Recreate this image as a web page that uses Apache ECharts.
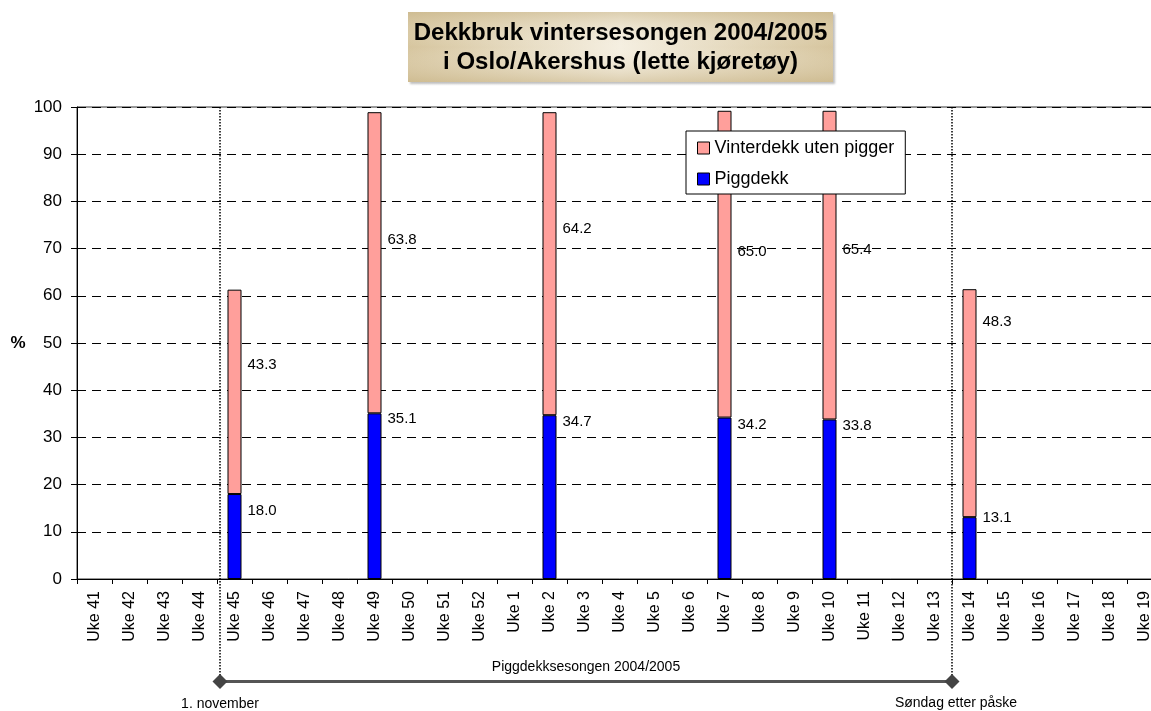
<!DOCTYPE html>
<html>
<head>
<meta charset="utf-8">
<script src="https://cdn.jsdelivr.net/npm/echarts@6.0.0/dist/echarts.min.js"></script>
<style>
  html, body { margin: 0; padding: 0; background: #fff; overflow: hidden; }
  /* the reference plot runs past the right edge of the picture */
  #chart { width: 1180px; height: 711px; }
</style>
</head>
<body>
<div id="chart"></div>
<script>
const weeks = [
  'Uke 41', 'Uke 42', 'Uke 43', 'Uke 44', 'Uke 45', 'Uke 46', 'Uke 47', 'Uke 48',
  'Uke 49', 'Uke 50', 'Uke 51', 'Uke 52', 'Uke 1', 'Uke 2', 'Uke 3', 'Uke 4',
  'Uke 5', 'Uke 6', 'Uke 7', 'Uke 8', 'Uke 9', 'Uke 10', 'Uke 11', 'Uke 12',
  'Uke 13', 'Uke 14', 'Uke 15', 'Uke 16', 'Uke 17', 'Uke 18', 'Uke 19'
]
const measuredWeeks = ['Uke 45', 'Uke 49', 'Uke 2', 'Uke 7', 'Uke 10', 'Uke 14']
const piggdekk = [18.0, 35.1, 34.7, 34.2, 33.8, 13.1]
const vinterdekk = [43.3, 63.8, 64.2, 65.0, 65.4, 48.3]
const yMin = 0
const yMax = 100
const yStep = 10

// where the value labels sit, in axis units (layout only)
const piggLabelAt = [14.4, 33.9, 33.3, 32.6, 32.4, 12.9]
const vinterLabelAt = [45.3, 71.8, 74.2, 69.3, 69.7, 54.4]

const FONT = "'Liberation Sans', Arial, sans-serif"
const gridTop = 107
const gridHeight = 472
const pxPerUnit = gridHeight / (yMax - yMin)

function buildData(values, base, labelAt) {
  return weeks.map(w => {
    const i = measuredWeeks.indexOf(w)
    if (i < 0) return '-'
    const mid = (base ? base[i] : 0) + values[i] / 2
    return {
      value: values[i],
      label: { offset: [0, -(labelAt[i] - mid) * pxPerUnit] }
    }
  })
}

const labelStyle = {
  show: true,
  position: 'right',
  distance: 6,
  fontSize: 15,
  fontFamily: FONT,
  color: '#000',
  formatter: p => Number(p.value).toFixed(1)
}

const chart = echarts.init(document.getElementById('chart'))

chart.setOption({
  backgroundColor: '#fff',
  animation: false,
  textStyle: { fontFamily: FONT },
  grid: {
    left: 77,
    top: gridTop,
    width: 1085,
    height: gridHeight,
    show: true,
    borderColor: '#333',
    borderWidth: 1,
    backgroundColor: 'transparent'
  },
  legend: {
    orient: 'vertical',
    left: 686,
    top: 131,
    padding: [8, 11, 6, 11],
    backgroundColor: '#fff',
    borderColor: '#000',
    borderWidth: 1,
    borderRadius: 0,
    itemWidth: 12,
    itemHeight: 12,
    itemGap: 13,
    icon: 'rect',
    data: ['Vinterdekk uten pigger', 'Piggdekk'],
    itemStyle: { borderColor: '#000', borderWidth: 1 },
    textStyle: { fontSize: 18, lineHeight: 18, color: '#000', fontFamily: FONT }
  },
  xAxis: {
    type: 'category',
    data: weeks,
    axisLine: { lineStyle: { color: '#000', width: 1 } },
    axisTick: { show: true, length: 5, lineStyle: { color: '#000' } },
    axisLabel: {
      rotate: 90,
      interval: 0,
      margin: 12,
      fontSize: 16,
      color: '#000',
      fontFamily: FONT
    },
    splitLine: { show: false }
  },
  yAxis: {
    type: 'value',
    min: yMin,
    max: yMax,
    interval: yStep,
    axisLine: { show: true, lineStyle: { color: '#000', width: 1 } },
    axisTick: { show: true, length: 6, lineStyle: { color: '#000' } },
    axisLabel: { margin: 15, fontSize: 17, color: '#000', fontFamily: FONT },
    splitLine: { lineStyle: { color: '#000', type: [9, 6], width: 1 } }
  },
  series: [
    {
      name: 'Piggdekk',
      type: 'bar',
      stack: 'dekk',
      barWidth: 14,
      itemStyle: { color: '#0000ff', borderColor: '#000', borderWidth: 1 },
      label: labelStyle,
      data: buildData(piggdekk, null, piggLabelAt)
    },
    {
      name: 'Vinterdekk uten pigger',
      type: 'bar',
      stack: 'dekk',
      barWidth: 14,
      itemStyle: { color: '#ff9f9b', borderColor: '#000', borderWidth: 1 },
      label: labelStyle,
      data: buildData(vinterdekk, piggdekk, vinterLabelAt)
    }
  ]
})

// annotations placed from the axis scale
const px0 = chart.convertToPixel({ xAxisIndex: 0 }, weeks[0])
const px1 = chart.convertToPixel({ xAxisIndex: 0 }, weeks[1])
const step = px1 - px0
const boundary = i => px0 + (i + 0.5) * step
const yTop = chart.convertToPixel({ yAxisIndex: 0 }, yMax)
const yZero = chart.convertToPixel({ yAxisIndex: 0 }, yMin)

const seasonStart = boundary(weeks.indexOf('Uke 44')) + 3
const seasonEnd = boundary(weeks.indexOf('Uke 13'))
const arrowY = 681.5
const d = 7.5

function diamond(x) {
  return {
    type: 'polygon',
    shape: { points: [[x, arrowY - d], [x + d, arrowY], [x, arrowY + d], [x - d, arrowY]] },
    style: { fill: '#444' },
    z: 20
  }
}

chart.setOption({
  graphic: [
    {
      type: 'rect',
      shape: { x: 408, y: 12, width: 425, height: 70 },
      style: {
        fill: new echarts.graphic.LinearGradient(0, 0, 1, 0, [
          { offset: 0, color: '#d6c59e' },
          { offset: 0.5, color: '#f5efe1' },
          { offset: 1, color: '#d6c59e' }
        ]),
        shadowBlur: 2,
        shadowOffsetX: 2,
        shadowOffsetY: 2,
        shadowColor: 'rgba(0,0,0,0.25)'
      },
      z: 10
    },
    {
      type: 'rect',
      shape: { x: 408, y: 12, width: 425, height: 70 },
      style: {
        fill: new echarts.graphic.LinearGradient(0, 0, 0, 1, [
          { offset: 0, color: 'rgba(200,180,135,0.55)' },
          { offset: 0.5, color: 'rgba(245,239,225,0)' },
          { offset: 1, color: 'rgba(200,180,135,0.55)' }
        ])
      },
      z: 11
    },
    {
      type: 'text',
      x: 620.5,
      y: 33,
      style: {
        text: 'Dekkbruk vintersesongen 2004/2005',
        font: 'bold 24px ' + FONT,
        fill: '#000',
        align: 'center',
        verticalAlign: 'middle'
      },
      z: 12
    },
    {
      type: 'text',
      x: 620.5,
      y: 62,
      style: {
        text: 'i Oslo/Akershus (lette kjøretøy)',
        font: 'bold 24px ' + FONT,
        fill: '#000',
        align: 'center',
        verticalAlign: 'middle'
      },
      z: 12
    },
    {
      type: 'text',
      x: 18,
      y: (yTop + yZero) / 2,
      style: {
        text: '%',
        font: 'bold 17px ' + FONT,
        fill: '#000',
        align: 'center',
        verticalAlign: 'middle'
      }
    },
    {
      type: 'line',
      shape: { x1: seasonStart, y1: yTop, x2: seasonStart, y2: arrowY },
      style: { stroke: '#000', lineWidth: 1.5, lineDash: [1.5, 1.5] },
      z: 15
    },
    {
      type: 'line',
      shape: { x1: seasonEnd, y1: yTop, x2: seasonEnd, y2: arrowY },
      style: { stroke: '#000', lineWidth: 1.5, lineDash: [1.5, 1.5] },
      z: 15
    },
    {
      type: 'line',
      shape: { x1: seasonStart, y1: arrowY, x2: seasonEnd, y2: arrowY },
      style: { stroke: '#555', lineWidth: 3 },
      z: 16
    },
    diamond(seasonStart),
    diamond(seasonEnd),
    {
      type: 'text',
      x: (seasonStart + seasonEnd) / 2,
      y: 667,
      style: {
        text: 'Piggdekksesongen 2004/2005',
        font: '14px ' + FONT,
        fill: '#000',
        align: 'center',
        verticalAlign: 'middle'
      }
    },
    {
      type: 'text',
      x: seasonStart,
      y: 704,
      style: {
        text: '1. november',
        font: '14px ' + FONT,
        fill: '#000',
        align: 'center',
        verticalAlign: 'middle'
      }
    },
    {
      type: 'text',
      x: seasonEnd + 4,
      y: 703,
      style: {
        text: 'Søndag etter påske',
        font: '14px ' + FONT,
        fill: '#000',
        align: 'center',
        verticalAlign: 'middle'
      }
    }
  ]
})
</script>
</body>
</html>
